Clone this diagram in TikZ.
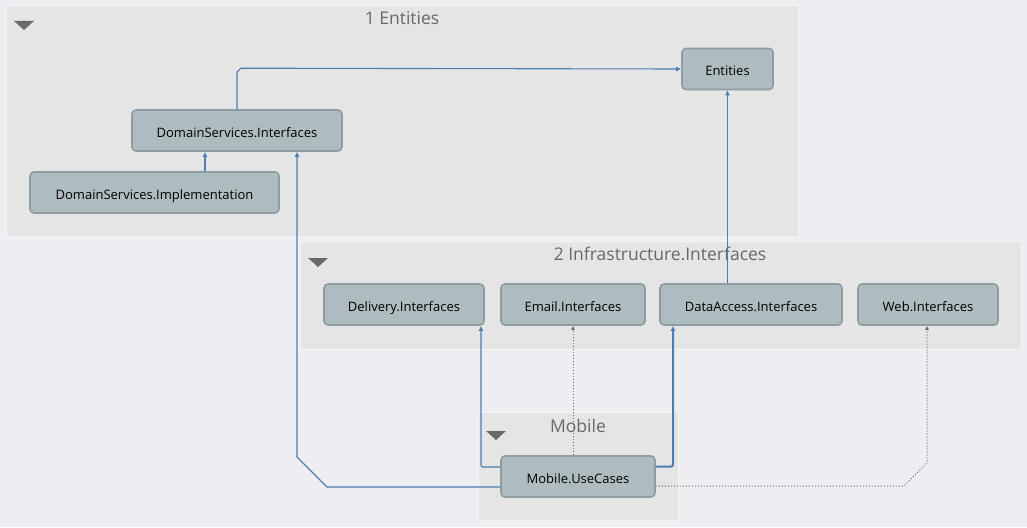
\documentclass[tikz,border=0pt]{standalone}
\usepackage{fontspec}
\setmainfont{Open Sans}
\usetikzlibrary{arrows.meta}

\definecolor{pagebg}{RGB}{238,238,242}
\definecolor{groupbg}{RGB}{229,229,229}
\definecolor{boxfill}{RGB}{174,187,191}
\definecolor{boxline}{RGB}{140,157,163}
\definecolor{deplink}{RGB}{76,126,178}
\definecolor{titlegray}{RGB}{105,105,105}

\begin{document}
\begin{tikzpicture}[x=1pt, y=-1pt,
    proj/.style={draw=boxline, line width=1.6pt, fill=boxfill, rounded corners=4pt,
        minimum height=41pt, inner sep=0pt, text height=14pt, text depth=1pt,
        font=\fontsize{13}{15}\selectfont},
    grp/.style={fill=groupbg, draw=white!60!groupbg, line width=0.8pt},
    grptitle/.style={text=titlegray, font=\fontsize{17.5}{20}\selectfont},
    collapse/.style={fill=titlegray},
    dep/.style={draw=deplink, line width=1.1pt, -{Latex[length=5pt,width=5pt]}},
    weak/.style={draw=gray!80!black, line width=1pt, dotted, -{Latex[length=4pt,width=4pt]}}]

    \fill[pagebg] (0,0) rectangle (1027,527);
    \useasboundingbox (0,0) rectangle (1027,527);

    % groups
    \draw[grp] (6,5) rectangle (798,236);
    \node[grptitle] (t1) at (402,18) {1 Entities};
    \fill[collapse] (14,21) -- (34,21) -- (24,30) -- cycle;

    \draw[grp] (300,241) rectangle (1021,349);
    \node[grptitle] (t2) at (660,254) {2 Infrastructure.Interfaces};
    \fill[collapse] (308,258) -- (328,258) -- (318,267) -- cycle;

    \draw[grp] (478,412) rectangle (678,520);
    \node[grptitle] (t3) at (578,426) {Mobile};
    \fill[collapse] (486,431) -- (506,431) -- (496,440) -- cycle;

    % projects
    \node[proj, minimum width=91pt] (ent) at (727.5,69) {Entities};
    \node[proj, minimum width=210pt] (dsi) at (237,130.5) {DomainServices.Interfaces};
    \node[proj, minimum width=249pt] (impl) at (154.5,192.5) {DomainServices.Implementation};
    \node[proj, minimum width=160pt] (del) at (404,304.5) {Delivery.Interfaces};
    \node[proj, minimum width=144pt] (eml) at (573,304.5) {Email.Interfaces};
    \node[proj, minimum width=182pt] (dat) at (751,304.5) {DataAccess.Interfaces};
    \node[proj, minimum width=140pt] (web) at (928,304.5) {Web.Interfaces};
    \node[proj, minimum width=154pt] (mob) at (578,476.5) {Mobile.UseCases};

    % dependencies
    \draw[dep] (dsi.north) -- ++(0,-37) -- ++(4,-4) -- (ent.west);
    \draw[dep] ([xshift=50.5pt]impl.north) -- ([xshift=50.5pt]impl.north |- dsi.south);
    \draw[dep] (dat.north -| ent.south) -- (ent.south);
    \draw[dep] ([yshift=-10.5pt]mob.west) -- (327,487) -- (297,457) -- ([xshift=60pt]dsi.south);
    \draw[dep, rounded corners=2pt] ([yshift=9.5pt]mob.west) -- (481,467) -- ([xshift=77pt]del.south);
    \draw[weak] (mob.north -| eml.south) -- (eml.south);
    \draw[dep, line width=2pt, rounded corners=2pt] ([yshift=10pt]mob.east) -- (673,466.5) -- ([xshift=-78pt]dat.south);
    \draw[weak] ([yshift=-9.5pt]mob.east) -- (904,486) -- (927,463) -- ([xshift=-1pt]web.south);
\end{tikzpicture}
\end{document}
